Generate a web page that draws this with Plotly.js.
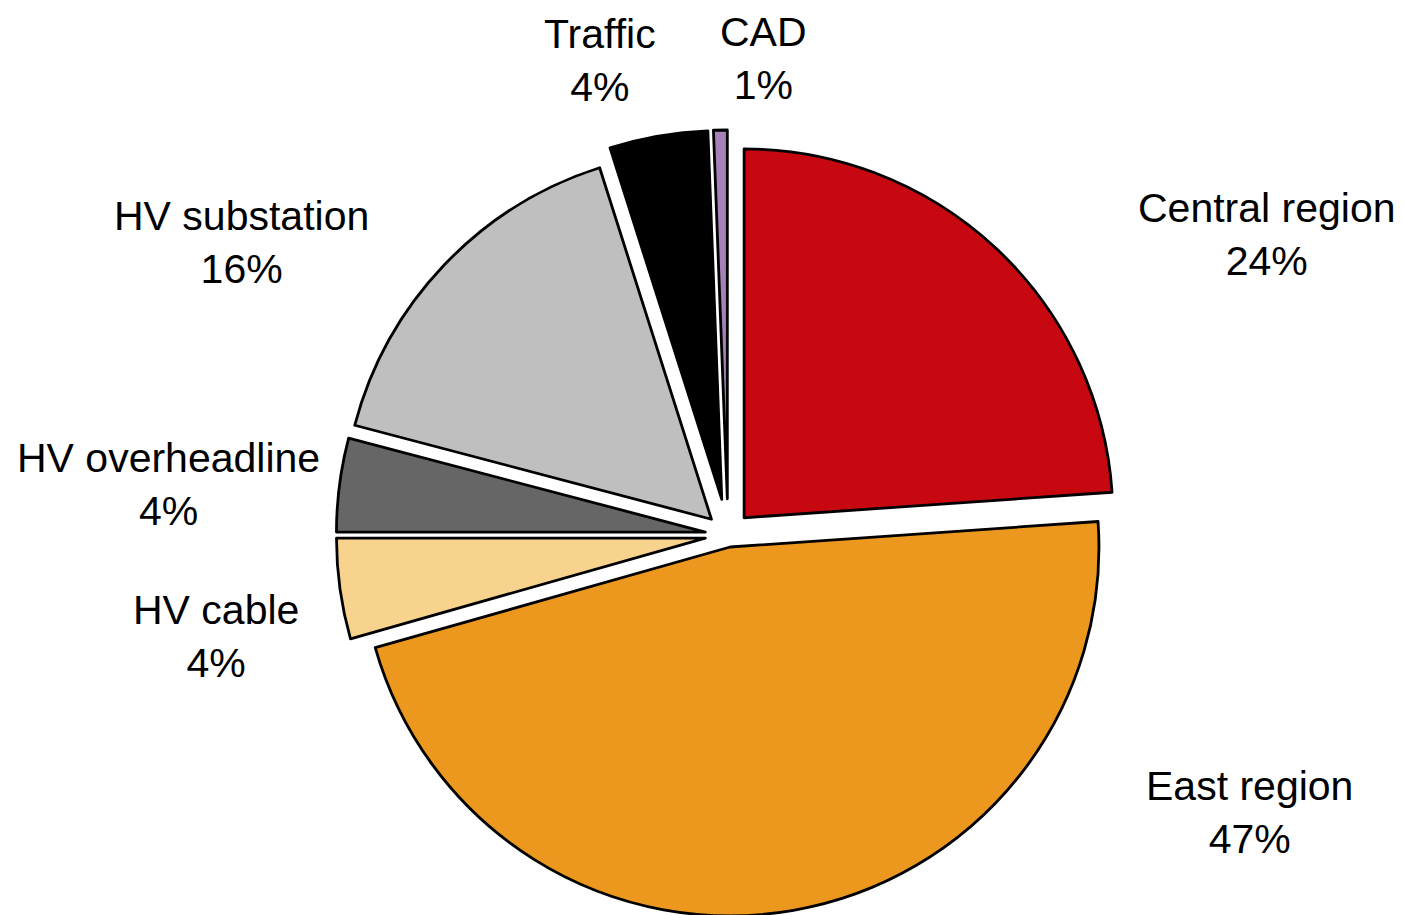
<!DOCTYPE html>
<html>
<head>
<meta charset="utf-8">
<script src="https://cdn.plot.ly/plotly-3.0.1.min.js"></script>
<style>
html, body { margin: 0; padding: 0; overflow: hidden; background: #fff; }
#chart { width: 1403px; height: 960px; }
</style>
</head>
<body>
<div id="chart"></div>
<script>
// ---- data ----
var categories = ["Central region", "East region", "HV cable", "HV overheadline", "HV substation", "Traffic", "CAD"];
var shares = [23.9, 46.7, 4.4, 4.1, 16.0, 4.3, 0.6];

// ---- styles / layout settings ----
var sliceColors = ["#C70811", "#EC981E", "#F8D38D", "#666666", "#BFBFBF", "#000000", "#A681B8"];
var slicePull = [0.064, 0.033, 0.062, 0.062, 0.062, 0.098, 0.098];
var W = 1403, H = 960;
var centerPx = [728, 535];
var boxPx = 810;
// label block centres (pixels), same order as categories
var labelPos = [[1267, 234], [1249, 812], [216, 636], [168, 484], [241, 242], [600, 60], [763, 58]];

var total = shares.reduce(function (a, b) { return a + b; }, 0);

var trace = {
  type: "pie",
  labels: categories,
  values: shares,
  sort: false,
  direction: "clockwise",
  rotation: 0,
  pull: slicePull,
  textinfo: "none",
  hoverinfo: "label+percent",
  marker: { colors: sliceColors, line: { color: "#000000", width: 2.8 } },
  domain: {
    x: [(centerPx[0] - boxPx / 2) / W, (centerPx[0] + boxPx / 2) / W],
    y: [(H - centerPx[1] - boxPx / 2) / H, (H - centerPx[1] + boxPx / 2) / H]
  },
  showlegend: false
};

var annotations = categories.map(function (c, i) {
  var pct = Math.round(shares[i] / total * 100);
  return {
    text: c + "<br>" + pct + "%",
    x: labelPos[i][0] / W,
    y: (H - labelPos[i][1]) / H,
    xref: "paper", yref: "paper",
    xanchor: "center", yanchor: "middle",
    showarrow: false,
    align: "center",
    font: { family: "Liberation Sans, Arial, sans-serif", size: 41, color: "#000000" }
  };
});

var layout = {
  width: W, height: H,
  margin: { l: 0, r: 0, t: 0, b: 0 },
  paper_bgcolor: "#ffffff",
  plot_bgcolor: "#ffffff",
  annotations: annotations,
  font: { family: "Liberation Sans, Arial, sans-serif" }
};

Plotly.newPlot("chart", [trace], layout, { displayModeBar: false, staticPlot: true });
</script>
</body>
</html>
